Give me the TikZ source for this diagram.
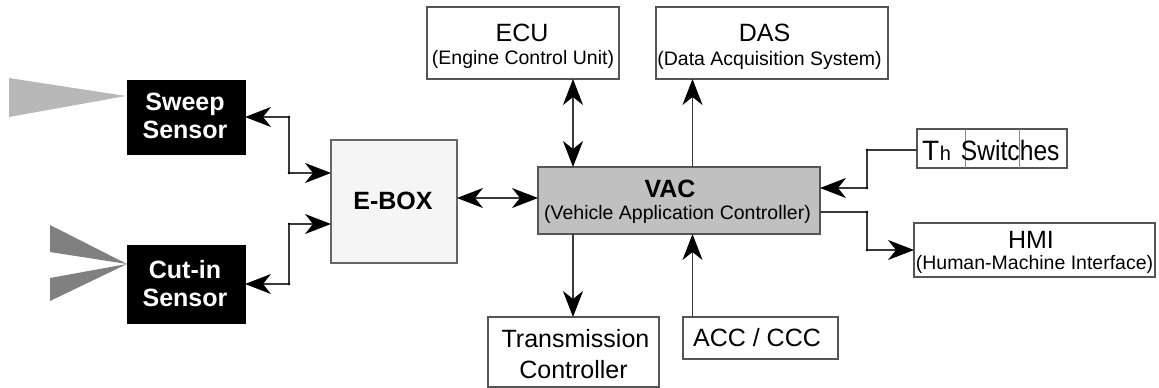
\documentclass[tikz,border=0pt]{standalone}
\usepackage{fontspec}
\setmainfont{Liberation Sans}
\usepackage{graphicx}
\usetikzlibrary{arrows.meta}
\definecolor{lineg}{HTML}{3A3A3A}
\definecolor{boxg}{HTML}{555555}
\definecolor{eboxfill}{HTML}{F5F5F5}
\definecolor{vacfill}{HTML}{C0C0C0}
\definecolor{beamlight}{HTML}{B8B8B8}
\definecolor{beamdark}{HTML}{808080}
\definecolor{cellg}{HTML}{8A8A8A}
\begin{document}
\begin{tikzpicture}[x=1pt,y=-1pt,
  >={Stealth[length=26pt,width=20pt,inset=8pt,color=black]},
  box/.style={draw=boxg, line width=1.2pt, rectangle, inner sep=0pt, outer sep=0pt, fill=white},
  sensorbox/.style={draw=black, fill=black, rectangle, inner sep=0pt, outer sep=0pt},
  ttl/.style={anchor=base, inner sep=0pt, font=\fontsize{25}{30}\selectfont},
  bttl/.style={anchor=base, inner sep=0pt, font=\fontsize{25}{30}\selectfont\bfseries},
  sub/.style={anchor=base, inner sep=0pt, font=\fontsize{19.5}{23}\selectfont},
  conn/.style={draw=lineg, line width=1.2pt},
  jdot/.style={fill=black},
]
\useasboundingbox (0,0) rectangle (1159,388);

% beams
\fill[beamlight] (9,78) -- (9,117) -- (126,96) -- cycle;
\fill[beamdark] (50,225) -- (50,252) -- (127,264) -- cycle;
\fill[beamdark] (50,278) -- (50,301) -- (127,264) -- cycle;

% boxes
\node[sensorbox, minimum width=118pt, minimum height=74pt] (sweep) at (186,117) {};
\node[sensorbox, minimum width=118pt, minimum height=78pt] (cutin) at (186,284) {};
\node[box, draw=boxg!90, fill=eboxfill, line width=1.5pt, minimum width=126pt, minimum height=123pt] (ebox) at (394,201.5) {};
\node[box, fill=vacfill, line width=1.5pt, minimum width=282pt, minimum height=67pt] (vac) at (679,200.5) {};
\node[box, minimum width=192pt, minimum height=72pt] (ecu) at (523,43) {};
\node[box, minimum width=232pt, minimum height=72pt] (das) at (772,43) {};
\node[box, minimum width=171pt, minimum height=70pt] (trans) at (573.5,352) {};
\node[box, minimum width=155pt, minimum height=42pt] (acc) at (760.5,338) {};
\node[box, minimum width=150pt, minimum height=39pt] (th) at (992,148.5) {};
\node[box, minimum width=241pt, minimum height=54pt] (hmi) at (1034.5,250) {};

% cells of the switches box
\draw[cellg, line width=1pt] (th.north -| 965,0) -- (th.south -| 965,0);
\draw[cellg, line width=1pt] (th.north -| 1019,0) -- (th.south -| 1019,0);

% texts
\node[bttl, text=white] (sweepA) at (185,110) {Sweep};
\node[bttl, text=white] (sweepB) at (185,138) {Sensor};
\node[bttl, text=white] (cutinA) at (185,278) {Cut-in};
\node[bttl, text=white] (cutinB) at (185,306) {Sensor};
\node[bttl] (eboxA) at (393,209) {E-BOX};
\node[bttl] (vacA) at (670,197) {VAC};
\node[sub] (vacB) at (677.5,219) {(Vehicle Application Controller)};
\node[ttl] (ecuA) at (522,41) {ECU};
\node[sub] (ecuB) at (523,64) {(Engine Control Unit)};
\node[ttl] (dasA) at (764.5,41) {DAS};
\node[sub] (dasB) at (769.5,65) {(Data Acquisition System)};
\node[ttl] (transA) at (575.5,347) {Transmission};
\node[ttl] (transB) at (573.5,378) {Controller};
\node[ttl] (accA) at (757,346) {ACC / CCC};
\node[ttl] (hmiA) at (1031,248) {HMI};
\node[sub] (hmiB) at (1034.5,269) {(Human-Machine Interface)};
\node[anchor=base west, inner sep=0pt] (thA) at (922,160)
  {\fontsize{28}{30}\selectfont T\kern0.5pt{\fontsize{20}{20}\selectfont h}\kern10pt\scalebox{0.88}[1]{Switches}};

% helper coordinates
\coordinate (bx) at (289,0);
\coordinate (kx) at (867,0);
\coordinate (ey1) at (0,173);
\coordinate (ey2) at (0,224);
\coordinate (vy1) at (0,188);
\coordinate (vy2) at (0,212);
\coordinate (cx1) at (573,0);
\coordinate (cx2) at (692.5,0);
\coordinate (ty) at (0,150);
\coordinate (my) at (0,198);

% connectors
\draw[conn, <->] (sweep.east) -- (sweep.east -| bx) |- (ebox.west |- ey1);
\draw[conn, <->] (ebox.west |- ey2) -| (bx |- cutin.east) -- (cutin.east);
\draw[conn, <->] (ebox.east |- my) -- (vac.west |- my);
\draw[conn, <->] (ecu.south -| cx1) -- (vac.north -| cx1);
\draw[conn, ->] (vac.north -| cx2) -- (das.south -| cx2);
\draw[conn, ->] (vac.south -| cx1) -- (trans.north -| cx1);
\draw[conn, ->] (acc.north -| cx2) -- (vac.south -| cx2);
\draw[conn, ->] (th.west |- ty) -- (kx |- ty) |- (vac.east |- vy1);
\draw[conn, ->] (vac.east |- vy2) -- (kx |- vy2) |- (hmi.west);

% junction dots
\foreach \p in {(289,117),(289,173),(289,224),(289,284),(867,150),(867,188),(867,212),(867,250)}
  \fill[jdot] \p circle (1.4);
\end{tikzpicture}
\end{document}
